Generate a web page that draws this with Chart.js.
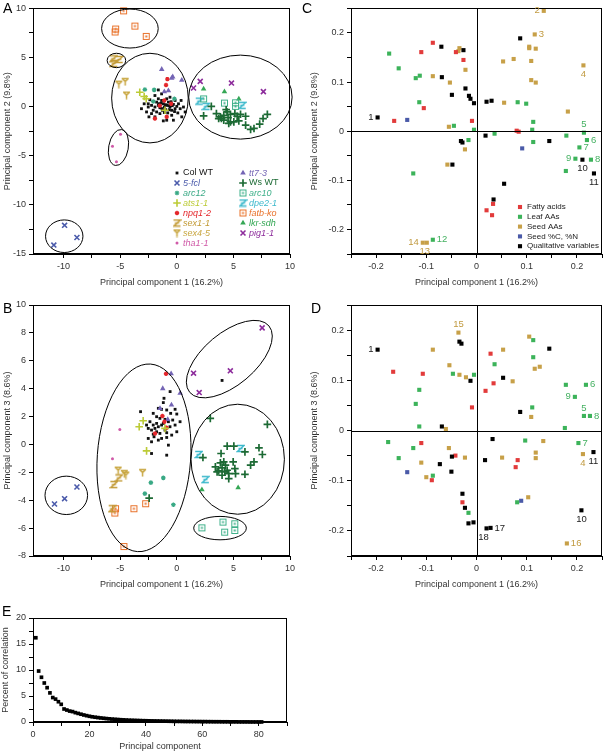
<!DOCTYPE html>
<html>
<head>
<meta charset="utf-8">
<script src="https://cdn.jsdelivr.net/npm/chart.js@4.4.1/dist/chart.umd.min.js"></script>
<style>
body { margin: 0; background: #fff; width: 606px; height: 753px; position: relative; overflow: hidden; font-family: "Liberation Sans", Arial, sans-serif; }
canvas { position: absolute; }
.lab { position: absolute; font-size: 14px; line-height: 14px; color: #000; }
</style>
</head>
<body>
<canvas id="chA" width="300" height="296" style="left:0;top:0"></canvas>
<canvas id="chC" width="306" height="296" style="left:300px;top:0"></canvas>
<canvas id="chB" width="300" height="300" style="left:0;top:296px"></canvas>
<canvas id="chD" width="306" height="300" style="left:300px;top:296px"></canvas>
<canvas id="chE" width="300" height="157" style="left:0;top:596px"></canvas>
<div class="lab" style="left:3px;top:1px">A</div>
<div class="lab" style="left:302px;top:1px">C</div>
<div class="lab" style="left:3px;top:301px">B</div>
<div class="lab" style="left:311px;top:301px">D</div>
<div class="lab" style="left:2px;top:604px">E</div>
<script>
// ---- A: scores, PC1 vs PC2 ----
var aColWT = [[-1.63,1.70],[-3.12,-0.21],[-2.52,0.29],[-2.38,0.70],[-2.23,0.13],[-1.93,-0.04],[-1.78,0.46],[-1.63,0.13],[-1.49,-0.11],[-1.34,0.63],[-1.19,0.29],[-1.10,-0.04],[-0.98,-0.31],[-0.89,0.13],[-0.74,0.46],[-0.60,-0.04],[-0.45,-0.37],[-0.30,0.23],[-0.15,-0.21],[0.00,0.03],[0.15,0.29],[0.30,-0.21],[0.44,-1.04],[0.09,-0.64],[-0.45,-0.88],[-0.89,-1.38],[-1.19,-1.45],[-1.49,-0.71],[-1.78,-0.54],[-2.08,-0.37],[-2.23,-0.71],[-2.52,-0.04],[-2.67,-0.54],[-1.34,1.30],[-1.93,1.13],[-0.60,0.96],[-0.15,0.63],[0.59,-0.04],[0.74,-0.54],[-1.63,0.80],[-1.28,-0.37],[-0.80,-0.64],[-0.30,-1.38],[-1.93,-1.04],[-2.46,-1.04],[-2.88,0.29],[0.38,0.63],[-0.89,0.80],[-1.39,0.36],[-0.66,-0.31],[-1.0,0.2],[-0.5,0.5],[-1.3,-0.2],[-0.2,-0.5],[-0.7,0.1],[-1.6,0.3],[-0.4,0.1],[-1.1,-0.6]];
var a5fcl = [[-9.91,-12.08],[-8.82,-13.32],[-10.86,-14.09]];
var aArc12 = [[-2.82,1.74],[-2.08,0.53],[-0.21,0.8],[-2.0,1.71]];
var aAts11 = [[-3.27,1.47],[-2.88,1.03],[-2.7,0.8],[-1.04,-0.37]];
var aNpq12 = [[-0.83,2.8],[-0.95,2.2],[-1.1,0.63],[-1.93,-1.21],[-0.89,-1.04],[-0.5,0.3],[-1.5,0.1]];
var aSex11 = [[-5.62,4.87],[-5.09,4.8],[-5.56,4.4]];
var aSex45 = [[-5.12,2.28],[-4.56,2.55],[-4.44,1.17]];
var aTha11 = [[-4.97,-2.82],[-5.68,-4.03],[-5.33,-5.6]];
var aTt73 = [[-1.33,3.8],[-0.36,3.04],[0.44,2.7],[-0.74,1.63],[-1.1,1.53],[-0.45,2.9]];
var aWsWT = [[3.05,0.03],[2.37,-0.94],[3.5,-0.71],[3.85,-1.04],[3.94,-1.21],[4.15,-0.88],[4.45,-0.54],[4.53,-1.11],[4.74,-0.78],[5.13,-0.71],[5.33,-0.98],[5.48,-1.45],[5.63,-0.78],[6.08,-0.98],[6.08,-1.88],[6.52,-2.32],[6.82,-2.22],[7.32,-1.78],[7.62,-1.21],[8.0,-0.78],[4.59,-1.71],[5.04,-1.55],[4.15,-1.38],[3.7,-1.21],[4.36,-0.31],[4.74,-1.55]];
var aArc10 = [[2.37,0.79],[4.21,0.36],[5.19,0.39],[5.19,0.03]];
var aDpe21 = [[1.98,0.56],[2.58,0.03],[5.78,0.13]];
var aFatbKo = [[-4.7,9.75],[-5.4,7.9],[-5.45,7.6],[-3.7,8.2],[-2.7,7.15]];
var aLkrSdh = [[2.37,1.8],[4.21,1.53],[5.48,0.79]];
var aPig11 = [[2.07,2.57],[1.48,1.9],[4.83,2.4],[7.65,1.53]];

// ---- B: scores, PC1 vs PC3 ----
var bColWT = [[-1.13,3.31],[-1.19,3.0],[-1.63,2.59],[-1.34,2.52],[-0.89,2.47],[-0.54,2.23],[-0.15,2.52],[0,2.18],[-3.2,2.35],[-2.08,2.23],[-1.78,1.99],[-1.49,1.87],[-1.04,1.8],[-0.74,1.63],[-0.36,1.75],[0.29,1.63],[-2.37,1.63],[-2.08,1.39],[-2.52,1.15],[-2.23,1.03],[-1.93,1.15],[-1.63,1.27],[-1.34,1.39],[-1.04,1.03],[-0.6,1.27],[-0.15,1.39],[0,0.91],[-1.78,0.91],[-1.49,0.79],[-0.89,0.84],[-2.08,0.74],[-2.52,0.43],[-1.34,0.43],[-0.89,0.5],[-0.45,0.67],[-1.63,0.31],[-2.23,0.19],[-0.74,-0.05],[-0.89,-0.77],[-2.23,-0.65],[-1.78,1.51],[-1.19,1.51],[-2.67,1.39],[-0.59,3.79],[-2.01,0.55],[4.0,4.59]];
var b5fcl = [[-10.8,-4.27],[-9.91,-3.89],[-8.82,-3.05]];
var bArc12 = [[-2.29,-2.74],[-1.19,-2.4],[-2.82,-3.53],[-0.3,-4.32]];
var bAts11 = [[-2.97,1.7],[-3.32,1.27],[-2.67,-0.46],[-1.04,1.15]];
var bNpq12 = [[-0.95,5.07],[-1.27,2.04],[-1.92,0.79],[-1.09,1.63],[-0.9,1.2]];
var bSex11 = [[-5.12,-2.4],[-5.56,-2.88],[-5.71,-4.61]];
var bSex45 = [[-5.18,-1.85],[-4.64,-2.09],[-4.5,-2.2],[-3.02,-2.02]];
var bTha11 = [[-5.03,1.08],[-5.68,-1.03]];
var bTt73 = [[-0.5,5.07],[-1.24,4.01],[-0.47,2.83],[0.3,3.67],[-1.48,2.59],[-0.8,1.8]];
var bWsWT = [[2.96,1.87],[8.0,1.44],[4.45,-0.12],[5.04,-0.12],[6.02,-0.53],[7.26,-0.24],[7.56,-0.72],[3.91,-0.65],[6.82,-1.25],[6.52,-1.49],[3.85,-1.32],[4.15,-1.25],[4.3,-1.49],[4.98,-1.25],[3.41,-1.61],[3.7,-1.9],[4.0,-1.68],[4.45,-1.85],[4.59,-2.09],[5.13,-1.73],[5.19,-2.09],[6.02,-2.14],[4.59,-2.45],[4.0,-2.21],[3.56,-1.97],[2.31,-0.94],[4.24,-1.97],[-2.44,-3.85]];
var bArc10 = [[2.22,-5.98],[4.08,-5.57],[5.12,-5.69],[4.23,-6.29],[5.12,-6.17]];
var bDpe21 = [[1.93,-0.72],[5.63,-0.29],[2.52,-2.52]];
var bFatbKo = [[-5.41,-4.61],[-5.47,-4.92],[-3.79,-4.61],[-2.75,-4.25],[-4.67,-7.32]];
var bLkrSdh = [[2.22,-3.24],[5.42,-3.1]];
var bPig11 = [[7.54,8.36],[4.73,5.28],[1.48,5.11],[1.98,3.72]];

// ---- C: loadings, PC1 vs PC2 ----
var cFatty = [[-0.087,0.180],[-0.110,0.161],[-0.041,0.161],[-0.026,0.145],[-0.105,0.047],[-0.164,0.021],[-0.009,0.021],[0.080,0.001],[0.084,-0.001],[0.020,-0.161],[0.033,-0.148],[0.031,-0.171]];
var cLeaf = [[-0.174,0.158],[-0.155,0.128],[-0.121,0.108],[-0.113,0.113],[-0.114,0.059],[-0.045,0.011],[-0.005,0.003],[-0.016,-0.018],[0.036,-0.005],[0.082,0.059],[0.099,0.056],[0.113,0.019],[0.111,0.003],[0.113,-0.022],[0.179,-0.009],[0.178,-0.081],[0.197,-0.056],[0.205,-0.033],[0.214,-0.003],[0.220,-0.018],[0.228,-0.058],[-0.126,-0.086],[-0.087,-0.221]];
var cSeed = [[0.134,0.245],[0.116,0.197],[0.105,0.172],[0.105,0.169],[0.118,0.168],[0.074,0.147],[0.053,0.142],[0.109,0.143],[0.118,0.099],[0.109,0.104],[0.213,0.134],[0.182,0.040],[0.055,0.058],[-0.034,0.169],[-0.036,0.163],[-0.022,0.125],[-0.087,0.112],[-0.053,0.099],[-0.055,0.009],[-0.023,-0.037],[-0.058,-0.068],[-0.107,-0.227],[-0.099,-0.227]];
var cSeedCN = [[-0.138,0.023],[0.091,-0.035]];
var cQual = [[-0.197,0.028],[-0.070,0.172],[-0.026,0.165],[-0.069,0.110],[-0.049,0.074],[-0.022,0.087],[-0.015,0.072],[-0.012,0.066],[-0.005,0.057],[0.020,0.060],[0.030,0.062],[0.087,0.189],[-0.031,-0.020],[-0.028,-0.023],[-0.048,-0.068],[0.018,-0.009],[0.145,-0.020],[0.055,-0.107],[0.034,-0.139],[0.211,-0.058],[0.234,-0.086]];

// ---- D: loadings, PC1 vs PC3 ----
var dFatty = [[-0.166,0.117],[-0.107,0.113],[0.028,0.153],[0.034,0.094],[0.018,0.079],[-0.009,0.046],[-0.110,-0.025],[-0.042,-0.050],[-0.089,-0.099],[0.082,-0.059],[0.078,-0.073],[-0.028,-0.143]];
var dLeaf = [[-0.114,0.081],[-0.121,0.053],[-0.114,0.008],[-0.047,0.113],[-0.005,0.111],[0.036,0.132],[0.113,0.180],[0.113,0.146],[0.111,0.046],[0.178,0.091],[0.196,0.067],[0.218,0.091],[0.214,0.029],[0.226,0.029],[0.176,0.005],[-0.176,-0.023],[-0.126,-0.035],[-0.155,-0.055],[-0.087,-0.090],[0.097,-0.020],[0.203,-0.025],[0.081,-0.143],[-0.016,-0.164]];
var dSeed = [[-0.036,0.195],[-0.087,0.161],[-0.054,0.130],[-0.034,0.111],[-0.021,0.106],[-0.061,0.003],[-0.055,-0.035],[-0.023,-0.054],[-0.110,-0.064],[-0.100,-0.093],[0.053,0.161],[0.105,0.187],[0.116,0.123],[0.126,0.127],[0.072,0.098],[0.109,0.027],[0.051,-0.054],[0.118,-0.044],[0.118,-0.055],[0.133,-0.021],[0.212,-0.047],[0.103,-0.133],[0.180,-0.225]];
var dSeedCN = [[-0.138,-0.083],[0.089,-0.140]];
var dQual = [[-0.197,0.161],[-0.034,0.177],[-0.030,0.173],[-0.012,0.099],[0.053,0.105],[0.087,0.037],[0.145,0.163],[-0.069,0.008],[-0.073,-0.067],[-0.049,-0.052],[-0.050,-0.082],[-0.028,-0.126],[-0.023,-0.154],[-0.016,-0.185],[-0.006,-0.183],[0.017,-0.059],[0.032,-0.017],[0.028,-0.194],[0.020,-0.195],[0.209,-0.159],[0.233,-0.043]];

// ---- E: scree ----
var pcNumber = [1,2,3,4,5,6,7,8,9,10,11,12,13,14,15,16,17,18,19,20,21,22,23,24,25,26,27,28,29,30,31,32,33,34,35,36,37,38,39,40,41,42,43,44,45,46,47,48,49,50,51,52,53,54,55,56,57,58,59,60,61,62,63,64,65,66,67,68,69,70,71,72,73,74,75,76,77,78,79,80,81];
var pcPercent = [16.2,9.8,8.6,7.5,6.6,5.6,4.7,4.4,3.9,3.4,2.5,2.3,2.1,2.0,1.8,1.65,1.5,1.35,1.22,1.1,1.0,0.92,0.85,0.78,0.72,0.66,0.61,0.56,0.52,0.48,0.44,0.41,0.38,0.35,0.33,0.31,0.29,0.27,0.25,0.24,0.22,0.21,0.2,0.19,0.18,0.17,0.16,0.15,0.14,0.13,0.12,0.12,0.11,0.1,0.1,0.09,0.09,0.08,0.08,0.07,0.07,0.06,0.06,0.05,0.05,0.05,0.04,0.04,0.04,0.03,0.03,0.03,0.02,0.02,0.02,0.02,0.01,0.01,0.01,0.01,0.01];

var FAM = '"Liberation Sans", Arial, sans-serif';
var FONT = { family: FAM, size: 9 };
var TXT = '#333';

function glyph(kind, color) {
  var c = document.createElement('canvas');
  c.width = 9; c.height = 9;
  var g = c.getContext('2d');
  g.strokeStyle = color; g.fillStyle = color; g.lineWidth = 1.5;
  g.beginPath();
  if (kind == 'Z') {
    g.moveTo(1, 1.5); g.lineTo(8, 1.5); g.lineTo(1.5, 7.5); g.lineTo(8, 7.5);
    g.moveTo(2.5, 4.5); g.lineTo(6.5, 4.5);
    g.stroke();
  } else if (kind == 'Y') {
    g.moveTo(1, 1.5); g.lineTo(8, 1.5);
    g.moveTo(1.5, 1.5); g.lineTo(4.5, 4.5); g.lineTo(7.5, 1.5);
    g.moveTo(4.5, 4.5); g.lineTo(4.5, 8.5);
    g.stroke();
  } else {
    g.lineWidth = 1;
    g.strokeRect(1.5, 1.5, 6, 6);
    g.fillRect(3.5, 3.5, 2, 2);
  }
  return c;
}

// marker styles for the genotypes (A and B)
var geno = {
  'Col WT':  { c: '#111111', ps: 'rect', r: 2, bw: 0, it: false },
  '5-fcl':   { c: '#4b5bab', ps: 'crossRot', r: 3.5, bw: 1.6, it: true },
  'arc12':   { c: '#39a985', ps: 'star', r: 2.3, bw: 1.2, it: true },
  'ats1-1':  { c: '#bccb36', ps: 'cross', r: 3.8, bw: 1.6, it: true },
  'npq1-2':  { c: '#e4262b', ps: 'star', r: 2.2, bw: 1.3, it: true },
  'sex1-1':  { c: '#c29a35', ps: 'Z', it: true },
  'sex4-5':  { c: '#c8a640', ps: 'Y', it: true },
  'tha1-1':  { c: '#d05aa8', ps: 'circle', r: 1.5, bw: 0, it: true },
  'tt7-3':   { c: '#7465b5', ps: 'triangle', r: 3.2, bw: 0, it: true },
  'Ws WT':   { c: '#1c6a34', ps: 'cross', r: 3.8, bw: 1.7, it: false },
  'arc10':   { c: '#3fb08a', ps: 'SQ', it: true },
  'dpe2-1':  { c: '#3db9cc', ps: 'Z', it: true },
  'fatb-ko': { c: '#e8722b', ps: 'SQ', it: true },
  'lkr-sdh': { c: '#35a755', ps: 'triangle', r: 3.2, bw: 0, it: true },
  'pig1-1':  { c: '#8d2c9c', ps: 'crossRot', r: 3.5, bw: 1.6, it: true }
};
for (var k in geno) {
  var s = geno[k];
  if (s.ps == 'Z' || s.ps == 'Y' || s.ps == 'SQ') { s.ps = glyph(s.ps, s.c); s.r = 4.5; s.bw = 0; }
}

var groups = {
  'Fatty acids':          { c: '#e23b3b', lc: '#e23b3b' },
  'Leaf AAs':             { c: '#3cb35a', lc: '#43b060' },
  'Seed AAs':             { c: '#c7a048', lc: '#c19a40' },
  'Seed %C, %N':          { c: '#4a5aa8', lc: '#4a5aa8' },
  'Qualitative variables':{ c: '#000000', lc: '#222222' }
};

function pts(arr) { return arr.map(function(p){ return { x: p[0], y: p[1] }; }); }

function genoSet(name, arr) {
  var s = geno[name];
  return {
    label: name, data: pts(arr), order: name == 'Col WT' ? 1 : 0,
    pointStyle: s.ps, pointRadius: s.r, pointBorderWidth: s.bw,
    borderColor: s.c, backgroundColor: s.c, pointHoverRadius: s.r, clip: 10
  };
}
function groupSet(name, arr) {
  var s = groups[name];
  return {
    label: name, data: pts(arr), order: name == 'Qualitative variables' ? 0 : 1,
    pointStyle: 'rect', pointRadius: 2.9, pointBorderWidth: 0,
    borderColor: s.c, backgroundColor: s.c, clip: 10
  };
}

function isStep(v, step) { var q = v / step; return Math.abs(q - Math.round(q)) < 1e-6; }

function axis(o) {
  return {
    type: 'linear', min: o.min, max: o.max,
    border: { color: '#000', width: 1 },
    grid: { drawOnChartArea: false, drawTicks: true, tickLength: 4, color: '#000', tickWidth: 1 },
    ticks: {
      stepSize: o.step, font: FONT, color: TXT, padding: 3, maxRotation: 0, autoSkip: false,
      callback: function(v) {
        if (!isStep(v, o.major)) return '';
        if (Math.abs(v) < 1e-9) return '0';
        return o.dec ? v.toFixed(o.dec) : String(Math.round(v));
      }
    },
    title: { display: true, text: o.title, font: FONT, color: TXT, padding: o.tpad },
    afterBuildTicks: function(sc) { sc.ticks = sc.ticks.filter(function(t){ return isStep(t.value, o.step); }); },
    afterFit: function(sc) { if (sc.isHorizontal()) sc.height = o.size; else sc.width = o.size; }
  };
}

var framePlugin = {
  id: 'frame',
  afterDatasetsDraw: function(chart, args, opts) {
    var a = chart.chartArea, ctx = chart.ctx;
    var sx = chart.scales.x, sy = chart.scales.y;
    ctx.save();
    ctx.strokeStyle = '#000'; ctx.lineWidth = 1;
    ctx.strokeRect(Math.round(a.left) + 0.5, Math.round(a.top) + 0.5, Math.round(a.right - a.left) - 1, Math.round(a.bottom - a.top) - 1);
    if (opts.quad) {
      var x0 = Math.round(sx.getPixelForValue(0)) + 0.5, y0 = Math.round(sy.getPixelForValue(0)) + 0.5;
      ctx.beginPath();
      ctx.moveTo(x0, a.top); ctx.lineTo(x0, a.bottom);
      ctx.moveTo(a.left, y0); ctx.lineTo(a.right, y0);
      ctx.stroke();
    }
    (opts.ellipses || []).forEach(function(e) {
      ctx.beginPath();
      ctx.ellipse(sx.getPixelForValue(e.cx), sy.getPixelForValue(e.cy), e.a, e.b, (e.rot || 0) * Math.PI / 180, 0, Math.PI * 2);
      ctx.stroke();
    });
    ctx.font = '9.5px ' + FAM;
    (opts.labels || []).forEach(function(l) {
      var el = chart.getDatasetMeta(l.ds).data[l.i];
      var x = el.x, y = el.y;
      ctx.fillStyle = l.color;
      ctx.textBaseline = 'middle';
      if (l.pos == 'left') { ctx.textAlign = 'right'; ctx.fillText(l.t, x - 4, y); }
      else if (l.pos == 'right') { ctx.textAlign = 'left'; ctx.fillText(l.t, x + 4, y); }
      else if (l.pos == 'above') { ctx.textAlign = 'center'; ctx.fillText(l.t, x + (l.dx || 0), y - 8); }
      else { ctx.textAlign = 'center'; ctx.fillText(l.t, x + (l.dx || 0), y + 9); }
    });
    if (opts.legend) {
      var L = opts.legend;
      ctx.textAlign = 'left'; ctx.textBaseline = 'middle';
      L.cols.forEach(function(col, ci) {
        col.forEach(function(name, ri) {
          var ds = chart.data.datasets.filter(function(d){ return d.label == name; })[0];
          var mx = L.x + ci * L.colDx, my = L.y + ri * L.dy;
          ctx.fillStyle = ds.backgroundColor; ctx.strokeStyle = ds.borderColor; ctx.lineWidth = ds.pointBorderWidth;
          var opt = { pointStyle: ds.pointStyle, radius: L.r || ds.pointRadius, borderWidth: ds.pointBorderWidth, rotation: 0 };
          Chart.helpers.drawPoint(ctx, opt, mx, my);
          var it = L.italic && geno[name] && geno[name].it;
          ctx.font = (it ? 'italic ' : '') + L.size + 'px ' + FAM;
          ctx.fillStyle = L.textColor || ds.backgroundColor;
          ctx.fillText(name, mx + L.tx, my);
        });
      });
    }
    ctx.restore();
  }
};

function scatter(id, datasets, xo, yo, pad, frame) {
  return new Chart(document.getElementById(id), {
    type: 'scatter',
    data: { datasets: datasets },
    options: {
      responsive: false, animation: false, events: [],
      layout: { padding: pad },
      scales: { x: Object.assign({ position: 'bottom' }, axis(xo)), y: Object.assign({ position: 'left' }, axis(yo)) },
      plugins: { legend: { display: false }, tooltip: { enabled: false }, frame: frame }
    },
    plugins: [framePlugin]
  });
}

var pcA = { min: -12.7, max: 10, step: 2.5, major: 5, title: 'Principal component 1 (16.2%)' };
var pcL = { min: -0.25, max: 0.25, step: 0.05, major: 0.1, dec: 1, title: 'Principal component 1 (16.2%)' };

// A
scatter('chA', [
  genoSet('Col WT', aColWT), genoSet('5-fcl', a5fcl), genoSet('arc12', aArc12), genoSet('ats1-1', aAts11),
  genoSet('npq1-2', aNpq12), genoSet('sex1-1', aSex11), genoSet('sex4-5', aSex45), genoSet('tha1-1', aTha11),
  genoSet('tt7-3', aTt73), genoSet('Ws WT', aWsWT), genoSet('arc10', aArc10), genoSet('dpe2-1', aDpe21),
  genoSet('fatb-ko', aFatbKo), genoSet('lkr-sdh', aLkrSdh), genoSet('pig1-1', aPig11)
], Object.assign({}, pcA, { size: 42, tpad: { top: 0, bottom: 8 } }),
   { min: -15, max: 10, step: 2.5, major: 5, title: 'Principal component 2 (9.8%)', size: 33, tpad: { top: 2, bottom: 0 } },
   { top: 5, right: 10, left: 0, bottom: 0 },
   {
     ellipses: [
       { cx: -4.14, cy: 7.95, a: 28.3, b: 19.5 },
       { cx: -5.33, cy: 4.70, a: 9.3, b: 7.2 },
       { cx: -2.37, cy: 0.87, a: 38.3, b: 44.8 },
       { cx: 5.62, cy: 0.97, a: 51.7, b: 42 },
       { cx: -5.15, cy: -4.16, a: 9.8, b: 18.2, rot: 10 },
       { cx: -9.94, cy: -13.19, a: 18.7, b: 16.3 }
     ],
     legend: {
       x: 177, y: 173, dy: 10, colDx: 66, tx: 6, italic: true, size: 9,
       cols: [['Col WT', '5-fcl', 'arc12', 'ats1-1', 'npq1-2', 'sex1-1', 'sex4-5', 'tha1-1'],
              ['tt7-3', 'Ws WT', 'arc10', 'dpe2-1', 'fatb-ko', 'lkr-sdh', 'pig1-1']]
     }
   });

// B
scatter('chB', [
  genoSet('Col WT', bColWT), genoSet('5-fcl', b5fcl), genoSet('arc12', bArc12), genoSet('ats1-1', bAts11),
  genoSet('npq1-2', bNpq12), genoSet('sex1-1', bSex11), genoSet('sex4-5', bSex45), genoSet('tha1-1', bTha11),
  genoSet('tt7-3', bTt73), genoSet('Ws WT', bWsWT), genoSet('arc10', bArc10), genoSet('dpe2-1', bDpe21),
  genoSet('fatb-ko', bFatbKo), genoSet('lkr-sdh', bLkrSdh), genoSet('pig1-1', bPig11)
], Object.assign({}, pcA, { size: 40, tpad: { top: 0, bottom: 6 } }),
   { min: -8, max: 10, step: 2, major: 2, title: 'Principal component 3 (8.6%)', size: 33, tpad: { top: 2, bottom: 0 } },
   { top: 9, right: 10, left: 0, bottom: 0 },
   {
     ellipses: [
       { cx: -9.76, cy: -3.65, a: 21.3, b: 19.2 },
       { cx: -2.9, cy: -0.96, a: 46.7, b: 94, rot: 4 },
       { cx: 4.64, cy: 6.12, a: 51.7, b: 26, rot: -40 },
       { cx: 5.38, cy: -1.06, a: 46.7, b: 55 },
       { cx: 3.82, cy: -6.0, a: 26.3, b: 11.7 }
     ]
   });

function loadSets(f, l, s, cn, q) {
  return [groupSet('Fatty acids', f), groupSet('Leaf AAs', l), groupSet('Seed AAs', s),
          groupSet('Seed %C, %N', cn), groupSet('Qualitative variables', q)];
}
var GC = groups['Leaf AAs'].lc, SC = groups['Seed AAs'].lc, QC = groups['Qualitative variables'].lc;

// C
scatter('chC', loadSets(cFatty, cLeaf, cSeed, cSeedCN, cQual),
  Object.assign({}, pcL, { size: 42, tpad: { top: 0, bottom: 8 } }),
  { min: -0.25, max: 0.25, step: 0.05, major: 0.1, dec: 1, title: 'Principal component 2 (9.8%)', size: 51, tpad: { top: 9, bottom: 0 } },
  { top: 5, right: 3, left: 0, bottom: 0 },
  {
    quad: true,
    labels: [
      { ds: 4, i: 0, t: '1', pos: 'left', color: QC },
      { ds: 2, i: 0, t: '2', pos: 'left', color: SC },
      { ds: 2, i: 1, t: '3', pos: 'right', color: SC },
      { ds: 2, i: 10, t: '4', pos: 'below', color: SC },
      { ds: 1, i: 18, t: '5', pos: 'above', color: GC },
      { ds: 1, i: 19, t: '6', pos: 'right', color: GC },
      { ds: 1, i: 17, t: '7', pos: 'right', color: GC },
      { ds: 1, i: 20, t: '8', pos: 'right', color: GC },
      { ds: 1, i: 16, t: '9', pos: 'left', color: GC },
      { ds: 4, i: 19, t: '10', pos: 'below', color: QC },
      { ds: 4, i: 20, t: '11', pos: 'below', color: QC },
      { ds: 1, i: 22, t: '12', pos: 'right', color: GC },
      { ds: 2, i: 22, t: '13', pos: 'below', dx: -2, color: SC },
      { ds: 2, i: 21, t: '14', pos: 'left', color: SC }
    ],
    legend: {
      x: 220, y: 207, dy: 9.8, colDx: 0, tx: 7, r: 2.9, textColor: '#222', size: 8,
      cols: [['Fatty acids', 'Leaf AAs', 'Seed AAs', 'Seed %C, %N', 'Qualitative variables']]
    }
  });

// D
scatter('chD', loadSets(dFatty, dLeaf, dSeed, dSeedCN, dQual),
  Object.assign({}, pcL, { size: 40, tpad: { top: 0, bottom: 6 } }),
  { min: -0.25, max: 0.25, step: 0.05, major: 0.1, dec: 1, title: 'Principal component 3 (8.6%)', size: 51, tpad: { top: 9, bottom: 0 } },
  { top: 9, right: 3, left: 0, bottom: 0 },
  {
    quad: true,
    labels: [
      { ds: 4, i: 0, t: '1', pos: 'left', color: QC },
      { ds: 2, i: 0, t: '15', pos: 'above', color: SC },
      { ds: 1, i: 11, t: '6', pos: 'right', color: GC },
      { ds: 1, i: 10, t: '9', pos: 'left', color: GC },
      { ds: 1, i: 12, t: '5', pos: 'above', color: GC },
      { ds: 1, i: 13, t: '8', pos: 'right', color: GC },
      { ds: 1, i: 20, t: '7', pos: 'right', color: GC },
      { ds: 2, i: 20, t: '4', pos: 'below', color: SC },
      { ds: 4, i: 20, t: '11', pos: 'below', color: QC },
      { ds: 4, i: 19, t: '10', pos: 'below', color: QC },
      { ds: 4, i: 17, t: '17', pos: 'right', color: QC },
      { ds: 4, i: 18, t: '18', pos: 'below', dx: -3, color: QC },
      { ds: 2, i: 22, t: '16', pos: 'right', color: SC }
    ]
  });

// E
new Chart(document.getElementById('chE'), {
  type: 'scatter',
  data: { datasets: [{
    label: 'Percent of correlation',
    data: pcNumber.map(function(n, i){ return { x: n, y: pcPercent[i] }; }),
    pointStyle: 'rect', pointRadius: 2.6, pointBorderWidth: 0,
    backgroundColor: '#000', borderColor: '#000', clip: 10
  }] },
  options: {
    responsive: false, animation: false, events: [],
    layout: { padding: { top: 22, right: 13, left: 0, bottom: 0 } },
    scales: {
      x: Object.assign({ position: 'bottom' }, axis({ min: 0, max: 90, step: 10, major: 20, title: 'Principal component', size: 31, tpad: { top: 0, bottom: 1 } })),
      y: Object.assign({ position: 'left' }, axis({ min: 0, max: 20, step: 2.5, major: 5, title: 'Percent of correlation', size: 33, tpad: { top: 0, bottom: 0 } }))
    },
    plugins: { legend: { display: false }, tooltip: { enabled: false }, frame: {} }
  },
  plugins: [framePlugin]
});
</script>
</body>
</html>
